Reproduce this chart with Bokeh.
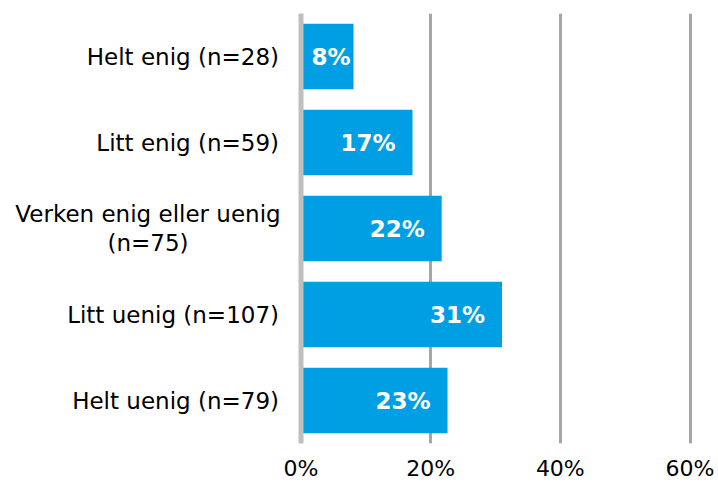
from bokeh.plotting import figure
from bokeh.models import ColumnDataSource, FactorRange, Range1d, FixedTicker, Span
from bokeh.core.properties import value
from bokeh.embed import file_html
from bokeh.resources import INLINE

# ---- data ----
categories = [
    "Helt enig (n=28)",
    "Litt enig (n=59)",
    "Verken enig eller uenig\n(n=75)",
    "Litt uenig (n=107)",
    "Helt uenig (n=79)",
]
shares = [8.1, 17.2, 21.7, 31.0, 22.6]
share_labels = ["8%", "17%", "22%", "31%", "23%"]
tick_values = [0, 20, 40, 60]
tick_labels = ["0%", "20%", "40%", "60%"]

# ---- styles ----
cat_align = ["right", "right", "center", "right", "right"]
cat_xoff = [-22, -22, -153, -22, -22]
val_xoff = [-3, -17, -17, -17, -17]

FONT = value("DejaVu Sans")
BAR = "#009FE3"

W, H = 718, 483
zero_px = 300.5
ppu = (689.5 - 300.5) / 60.0
x_start = -zero_px / ppu
x_end = x_start + W / ppu

src = ColumnDataSource(dict(
    cat=categories, share=shares, label=share_labels,
    cat_align=cat_align, cat_xoff=cat_xoff, val_xoff=val_xoff,
))

p = figure(
    width=W, height=H,
    y_range=FactorRange(factors=categories[::-1]),
    x_range=Range1d(x_start, x_end),
    y_axis_type=None,
    output_backend="svg", toolbar_location=None,
    min_border_left=0, min_border_right=0, min_border_top=13, min_border_bottom=0,
)
p.outline_line_color = None
p.background_fill_color = "white"
p.border_fill_color = "white"

p.hbar(y="cat", left=0, right="share", height=0.76, source=src,
       fill_color=BAR, line_color=None)

p.xgrid.ticker = FixedTicker(ticks=tick_values)
p.xgrid.grid_line_color = "#A6A6A6"
p.xgrid.grid_line_width = 3

p.add_layout(Span(location=0, dimension="height", line_color="#BFBFBF", line_width=5))

ax = p.xaxis[0]
ax.ticker = FixedTicker(ticks=tick_values)
ax.major_label_overrides = {t: l for t, l in zip(tick_values, tick_labels)}
ax.axis_line_color = None
ax.major_tick_line_color = None
ax.minor_tick_line_color = None
ax.major_tick_out = 0
ax.major_tick_in = 0
ax.minor_tick_out = 0
ax.minor_tick_in = 0
ax.major_label_text_font = "DejaVu Sans"
ax.major_label_text_font_size = "22px"
ax.major_label_text_color = "#000000"
ax.major_label_text_baseline = "hanging"
ax.major_label_standoff = 12

p.text(x=0, y="cat", text="cat", source=src, x_offset="cat_xoff",
       text_align="cat_align", text_baseline="middle",
       text_font=FONT, text_font_size="23px", text_color="#000000",
       text_line_height=1.12)

p.text(x="share", y="cat", text="label", source=src, x_offset="val_xoff",
       text_align="right", text_baseline="middle",
       text_font=FONT, text_font_size="23px", text_font_style="bold",
       text_color="white")

open("out.html", "w").write(file_html(p, INLINE))
